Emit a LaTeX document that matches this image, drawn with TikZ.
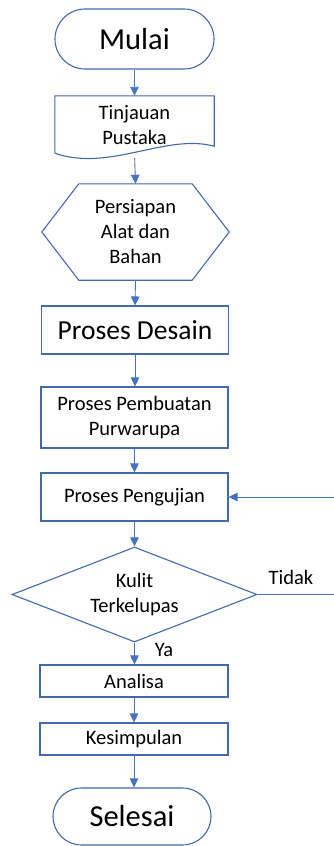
\documentclass[tikz,border=0pt]{standalone}
\usepackage{fontspec}
\setmainfont{Carlito}
\definecolor{garisbiru}{RGB}{65, 105, 175}
\definecolor{panahbiru}{RGB}{68, 114, 196}
\usetikzlibrary{shapes.geometric, arrows.meta, positioning}

\tikzset{
  kotak/.style={draw=garisbiru, line width=1.1pt, minimum width=187pt, align=center, inner sep=2pt, font=\fontsize{20.5}{25}\selectfont},
  terminal/.style={draw=garisbiru, line width=1.1pt, minimum width=159pt, minimum height=60pt, rounded corners=30pt, font=\fontsize{30.5}{34}\selectfont},
  teks/.style={align=center, inner sep=1pt, font=\fontsize{20.5}{25}\selectfont},
  panah/.style={-{Triangle[length=9pt,width=8.5pt]}, draw=panahbiru, line width=0.9pt},
  garis/.style={draw=panahbiru, line width=0.9pt}
}

\begin{document}
\begin{tikzpicture}[x=1pt, y=-1pt]
  \useasboundingbox (0,0) rectangle (334,846);

  % Mulai
  \node[terminal] (mulai) at (134.5, 39) {Mulai};

  % Tinjauan Pustaka (dokumen)
  \node[teks, minimum width=159pt, minimum height=58pt] (tinjauan) at (134.5, 125) {Tinjauan\\Pustaka};
  \draw[garisbiru, line width=1.1pt] ([yshift=1pt]tinjauan.south west) -- (tinjauan.north west)
    -- (tinjauan.north east) -- ([yshift=8pt]tinjauan.south east)
    .. controls +(-49,-13) and +(55,19) .. ([yshift=1pt]tinjauan.south west);

  % Persiapan (heksagon)
  \node[teks, minimum width=187pt, minimum height=96pt] (persiapan) at (135.5, 232) {Persiapan\\Alat dan\\Bahan};
  \draw[garisbiru, line width=1.1pt] (persiapan.west) -- ([xshift=37pt]persiapan.north west)
    -- ([xshift=-37pt]persiapan.north east) -- (persiapan.east)
    -- ([xshift=-37pt]persiapan.south east) -- ([xshift=37pt]persiapan.south west) -- cycle;

  % Proses
  \node[kotak, minimum height=48pt, font=\fontsize{27.5}{32}\selectfont] (desain) at (135, 330) {Proses Desain};
  \node[kotak, minimum height=61pt] (pembuatan) at (134.5, 417.5) {Proses Pembuatan\\Purwarupa};
  \node[kotak, minimum height=48pt] (pengujian) at (134.5, 497) {Proses Pengujian};

  % Keputusan
  \node[draw=garisbiru, line width=1.1pt, diamond, aspect=2.58, minimum width=245pt, minimum height=95pt,
    inner sep=0pt, teks] (kulit) at (134.5, 594.5) {Kulit\\Terkelupas};

  \node[kotak, minimum width=188pt, minimum height=32pt] (analisa) at (134, 681) {Analisa};
  \node[kotak, minimum width=188pt, minimum height=32pt] (kesimpulan) at (134, 739) {Kesimpulan};

  % Selesai
  \node[terminal, minimum width=158pt, minimum height=57pt, rounded corners=28.5pt] (selesai) at (132, 816.5) {Selesai};

  % Label
  \node[teks] (tidak) at (291, 577) {Tidak};
  \node[teks] (ya) at (164, 650) {Ya};

  % Ujung garis balik
  \coordinate (tidakujung) at (334, 594.5);
  \coordinate (balik) at (334, 497);

  % Panah
  \draw[panah] (mulai) -- (tinjauan.north);
  \draw[panah, shorten <=4pt] (tinjauan.south) -- (persiapan.north);
  \draw[panah] (persiapan.south) -- (desain.north);
  \draw[panah] (desain.south) -- (desain.south |- pembuatan.north);
  \draw[panah] (pembuatan.south) -- (pengujian.north);
  \draw[panah] (pengujian.south) -- (kulit.north);
  \draw[panah] (kulit.south) -- (kulit.south |- analisa.north);
  \draw[panah] (analisa.south) -- (analisa.south |- kesimpulan.north);
  \draw[panah] (kesimpulan.south) -- (kesimpulan.south |- selesai.north);
  \draw[garis] (kulit.east) -- (tidakujung);
  \draw[panah] (balik) -- (pengujian.east);
\end{tikzpicture}
\end{document}
